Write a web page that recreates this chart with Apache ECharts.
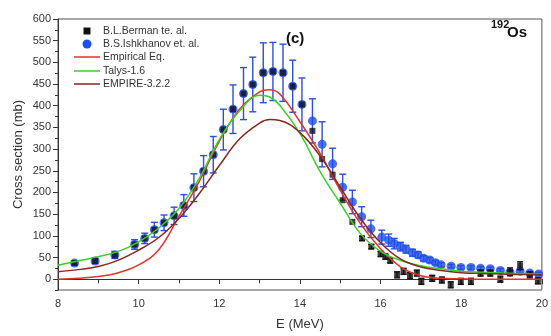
<!DOCTYPE html>
<html>
<head>
<meta charset="utf-8">
<script src="https://cdn.jsdelivr.net/npm/echarts@6/dist/echarts.min.js"></script>
<style>
html,body{margin:0;padding:0;background:#fff;}
#chart{width:551px;height:336px;}
</style>
</head>
<body>
<div id="chart"></div>
<script>
// ---- Data ----
// B.L.Berman et al. (black squares)
const bermanE     = [8.41,8.92,9.41,9.90,10.15,10.39,10.63,10.88,11.12,11.37,11.61,11.85,12.10,12.34,12.60,12.83,13.09,13.33,13.58,13.82,14.05,14.31,14.55,14.81,15.06,15.30,15.54,15.77,16.00,16.12,16.24,16.41,16.57,16.73,16.90,17.01,17.28,17.52,17.74,17.99,18.24,18.48,18.72,18.97,19.21,19.46,19.70,19.90];
const bermanSigma = [37,42,55,80,94,114,130,146,170,211,249,287,345,392,428,449,476,479,476,445,403,342,277,241,182,132,94,75,58,52,43,10,18,8,14,-5,2,-2,-13,-5,-5,14,14,0,17,31,10,-4];
const bermanErr   = [0,0,0,0,0,0,0,0,0,0,0,0,0,0,0,0,0,0,0,0,0,0,0,0,0,0,5,5,6,6,6,7,7,7,7,7,7,7,7,7,7,7,7,7,9,9,7,7];
// B.S.Ishkhanov et al. (blue circles)
const ishE     = [8.41,8.92,9.41,9.90,10.15,10.39,10.63,10.88,11.12,11.37,11.61,11.85,12.10,12.34,12.60,12.83,13.09,13.33,13.58,13.82,14.05,14.31,14.55,14.81,15.06,15.30,15.53,15.76,16.03,16.20,16.34,16.49,16.63,16.79,16.93,17.07,17.22,17.36,17.50,17.75,17.99,18.24,18.48,18.72,18.97,19.21,19.46,19.70,19.92];
const ishSigma = [37,42,56,80,94,114,130,146,170,211,249,287,345,392,428,449,476,479,476,445,403,365,311,266,212,178,144,116,97,90,82,75,69,61,56,48,44,38,33,30,27,27,25,24,20,16,18,14,12];
const ishErr   = [4,6,8,11,12,17,18,20,25,32,36,42,47,56,60,63,69,67,66,60,61,51,52,36,30,27,23,20,16,14,12,10,9,8,7,6,6,5,5,4,4,4,4,4,4,4,4,4,4];
// Model curves
const curveE        = [8,8.5,9,9.5,10,10.5,11,11.5,12,12.5,13,13.25,13.5,14,14.5,15,15.5,16,16.5,17,17.5,18,18.5,19,19.5,20];
const empiricalSig  = [0,2,6,15,33,68,145,225,318,392,432,437,427,363,290,205,128,70,28,8,2,1,0,0,0,0];
const talysSig      = [32,42,52,64,86,118,163,232,322,388,424,420,401,336,248,175,105,64,43,31,24,18,16,14,13,12];
const empireSig     = [17,22,29,44,67,96,140,197,262,323,360,368,366,338,284,212,140,84,46,28,20,15,13,12,11,11];
// Axis ticks
const yLabelValues = [0,50,100,150,200,250,300,350,400,450,500,550,600];
// Legend entries
const legendNames = ['B.L.Berman te. al.', 'B.S.Ishkhanov et. al.', 'Empirical Eq.', 'Talys-1.6', 'EMPIRE-3.2.2'];

const zip2 = (a, b) => a.map((v, i) => [v, b[i]]);
const zip3 = (a, b, c) => a.map((v, i) => [v, b[i], c[i]]);

function errRender(color, cap) {
  return function (params, api) {
    const x = api.value(0), y = api.value(1), e = api.value(2);
    if (!e) return null;
    const top = api.coord([x, y + e]);
    const bot = api.coord([x, y - e]);
    const st = { stroke: color, lineWidth: 1.4 };
    return {
      type: 'group',
      children: [
        { type: 'line', shape: { x1: top[0], y1: top[1], x2: bot[0], y2: bot[1] }, style: st },
        { type: 'line', shape: { x1: top[0] - cap, y1: top[1], x2: top[0] + cap, y2: top[1] }, style: st },
        { type: 'line', shape: { x1: bot[0] - cap, y1: bot[1], x2: bot[0] + cap, y2: bot[1] }, style: st }
      ]
    };
  };
}

const chart = echarts.init(document.getElementById('chart'), null, { renderer: 'canvas' });
const font = 'Liberation Sans, Arial, sans-serif';
const colors = { berman: '#111111', ish: '#1d4ef0', ishErr: '#2b4fd6', emp: '#e0342c', talys: '#3ccf2a', empire: '#8a2520' };

// custom legend drawn as graphics
const legRowY = [31, 44, 57, 71, 84];
const legendGraphics = [];
legendNames.forEach((name, i) => {
  const y = legRowY[i];
  if (i === 0) {
    legendGraphics.push({ type: 'rect', shape: { x: 83.5, y: y - 3.5, width: 7, height: 7 }, style: { fill: colors.berman } });
  } else if (i === 1) {
    legendGraphics.push({ type: 'circle', shape: { cx: 87, cy: y, r: 4.5 }, style: { fill: colors.ish } });
  } else {
    const c = [colors.emp, colors.talys, colors.empire][i - 2];
    legendGraphics.push({ type: 'line', shape: { x1: 74, y1: y, x2: 100, y2: y }, style: { stroke: c, lineWidth: 1.5 } });
  }
  legendGraphics.push({ type: 'text', x: 103, y: y, style: { text: name, font: '10.5px Liberation Sans, Arial, sans-serif', fill: '#333', verticalAlign: 'middle' } });
});

chart.setOption({
  animation: false,
  textStyle: { fontFamily: font },
  grid: { left: 58, right: 2, top: 19, bottom: 44, show: true, borderColor: '#555', borderWidth: 1, backgroundColor: '#fff' },
  xAxis: {
    type: 'value', min: 8, max: 20, interval: 2,
    name: 'E (MeV)', nameLocation: 'middle', nameGap: 28,
    nameTextStyle: { fontSize: 13, color: '#333', fontFamily: font },
    axisLine: { lineStyle: { color: '#333', width: 1 } },
    axisTick: { length: 5, lineStyle: { color: '#333' } },
    minorTick: { show: true, splitNumber: 2, length: 4, lineStyle: { color: '#333' } },
    axisLabel: { fontSize: 11, color: '#333', margin: 8, fontFamily: font },
    splitLine: { show: false }
  },
  yAxis: [
    {
      type: 'value', min: -25, max: 600, interval: 25, position: 'left',
      axisLine: { show: true, lineStyle: { color: '#333', width: 1 } },
      axisTick: { show: true, length: 3, lineStyle: { color: '#333' } },
      axisLabel: { show: false },
      splitLine: { show: false },
      name: 'Cross section (mb)', nameLocation: 'middle', nameGap: 33, nameRotate: 90,
      nameTextStyle: { fontSize: 13, color: '#333', fontFamily: font }
    },
    {
      type: 'value', min: -25, max: 600, position: 'left', offset: 0,
      axisLine: { show: false },
      axisTick: { show: true, length: 5, customValues: yLabelValues, lineStyle: { color: '#333' } },
      axisLabel: { show: true, customValues: yLabelValues, fontSize: 11, color: '#333', margin: 7, fontFamily: font },
      splitLine: { show: false }
    }
  ],
  graphic: [
    { type: 'text', left: 286, top: 31, style: { text: '(c)', font: 'bold 15px Liberation Sans, Arial, sans-serif', fill: '#111' } },
    { type: 'text', left: 491, top: 19, style: { text: '192', font: 'bold 11px Liberation Sans, Arial, sans-serif', fill: '#111' } },
    { type: 'text', left: 507, top: 25, style: { text: 'Os', font: 'bold 15px Liberation Sans, Arial, sans-serif', fill: '#111' } },
    { type: 'group', left: 0, top: 0, bounding: 'raw', children: legendGraphics, z: 100 }
  ],
  series: [
    {
      type: 'custom', name: 'ishErr', renderItem: errRender(colors.ishErr, 3.5),
      data: zip3(ishE, ishSigma, ishErr), z: 2, silent: true
    },
    {
      type: 'scatter', name: legendNames[1], symbol: 'circle', symbolSize: 9,
      itemStyle: { color: colors.ish }, data: zip2(ishE, ishSigma), z: 3
    },
    {
      type: 'custom', name: 'berErr', renderItem: errRender(colors.berman, 3),
      data: zip3(bermanE, bermanSigma, bermanErr), z: 4, silent: true
    },
    {
      type: 'scatter', name: legendNames[0], symbol: 'rect', symbolSize: 6,
      itemStyle: { color: colors.berman }, data: zip2(bermanE, bermanSigma), z: 5
    },
    {
      type: 'line', name: legendNames[2], symbol: 'none', smooth: 0.4,
      lineStyle: { color: colors.emp, width: 1.5 }, itemStyle: { color: colors.emp },
      data: zip2(curveE, empiricalSig), z: 6
    },
    {
      type: 'line', name: legendNames[3], symbol: 'none', smooth: 0.4,
      lineStyle: { color: colors.talys, width: 1.5 }, itemStyle: { color: colors.talys },
      data: zip2(curveE, talysSig), z: 6
    },
    {
      type: 'line', name: legendNames[4], symbol: 'none', smooth: 0.4,
      lineStyle: { color: colors.empire, width: 1.5 }, itemStyle: { color: colors.empire },
      data: zip2(curveE, empireSig), z: 6
    }
  ]
});
</script>
</body>
</html>
